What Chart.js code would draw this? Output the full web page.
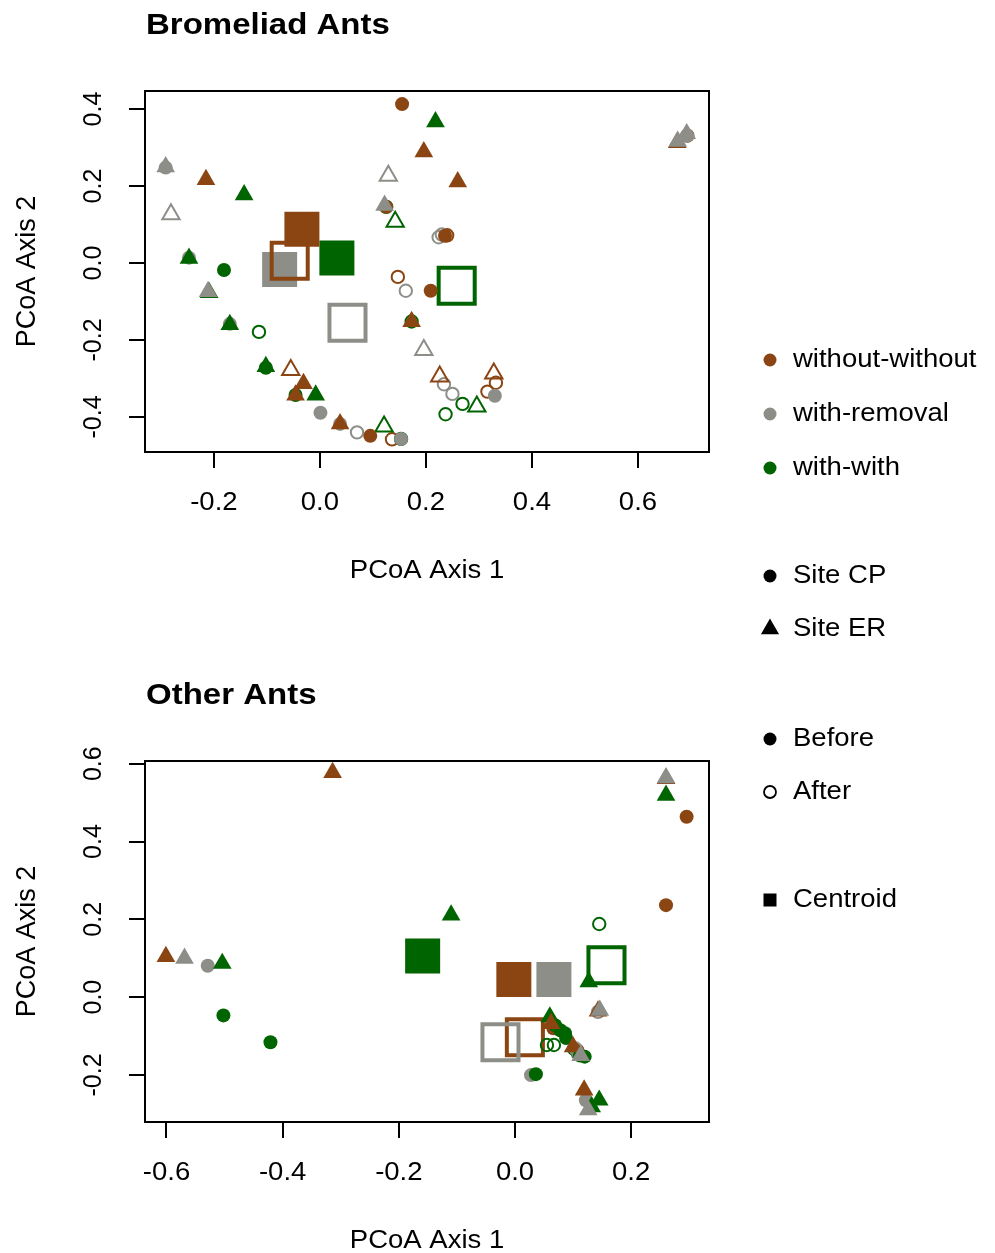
<!DOCTYPE html>
<html>
<head>
<meta charset="utf-8">
<title>PCoA - Bromeliad Ants / Other Ants</title>
<script src="https://cdn.jsdelivr.net/npm/chart.js@4.4.1/dist/chart.umd.min.js"></script>
<style>
  body { margin: 0; background: #fff; }
  #wrap { position: relative; width: 995px; height: 1253px; }
  canvas { position: absolute; left: 0; }
  #topPlot { top: 0; }
  #bottomPlot { top: 660px; }
</style>
</head>
<body>
<div id="wrap">
  <canvas id="topPlot" width="995" height="660"></canvas>
  <canvas id="bottomPlot" width="995" height="593"></canvas>
</div>
<script>
// treatments, in the order the series arrays are passed around
const treatments = ["without-without", "with-removal", "with-with"];
const treatmentColors = ["#8b4513", "#8e8e89", "#006400"];

// points: [PCoA axis 1, PCoA axis 2, site, time]
// site CP = circle, ER = triangle; time B = before (filled), A = after (open)
const bromWithout = [
    [0.196, 0.289, "ER", "B"], [-0.215, 0.217, "ER", "B"], [0.260, 0.211, "ER", "B"],
    [-0.031, -0.313, "ER", "B"], [-0.046, -0.343, "ER", "B"], [0.038, -0.418, "ER", "B"],
    [0.173, -0.152, "ER", "B"], [0.674, 0.313, "ER", "B"],
    [0.155, 0.413, "CP", "B"], [0.125, 0.146, "CP", "B"], [0.236, 0.071, "CP", "B"],
    [0.209, -0.072, "CP", "B"], [0.095, -0.449, "CP", "B"],
    [-0.055, -0.278, "ER", "A"], [0.226, -0.295, "ER", "A"], [0.328, -0.287, "ER", "A"],
    [0.147, -0.036, "CP", "A"], [0.136, -0.458, "CP", "A"], [0.332, -0.311, "CP", "A"],
    [0.316, -0.334, "CP", "A"], [0.693, 0.331, "CP", "A"], [0.240, 0.072, "CP", "A"]
];
const bromRemoval = [
    [-0.291, 0.250, "ER", "B"], [0.122, 0.150, "ER", "B"], [-0.211, -0.074, "ER", "B"],
    [0.675, 0.316, "ER", "B"], [0.692, 0.336, "ER", "B"],
    [-0.291, 0.248, "CP", "B"], [-0.247, 0.014, "CP", "B"], [-0.170, -0.158, "CP", "B"],
    [0.001, -0.389, "CP", "B"], [0.038, -0.418, "CP", "B"], [0.153, -0.457, "CP", "B"],
    [0.330, -0.345, "CP", "B"], [0.693, 0.331, "CP", "B"],
    [0.129, 0.227, "ER", "A"], [-0.281, 0.127, "ER", "A"], [0.196, -0.226, "ER", "A"],
    [0.070, -0.440, "CP", "A"], [0.162, -0.072, "CP", "A"], [0.224, 0.067, "CP", "A"],
    [0.230, 0.074, "CP", "A"], [0.234, -0.315, "CP", "A"], [0.250, -0.340, "CP", "A"]
];
const bromWith = [
    [0.218, 0.367, "ER", "B"], [-0.143, 0.177, "ER", "B"], [-0.247, 0.012, "ER", "B"],
    [-0.209, -0.077, "ER", "B"], [-0.170, -0.160, "ER", "B"], [-0.102, -0.269, "ER", "B"],
    [-0.008, -0.343, "ER", "B"],
    [-0.181, -0.018, "CP", "B"], [-0.046, -0.343, "CP", "B"], [-0.102, -0.272, "CP", "B"],
    [0.142, 0.107, "ER", "A"], [0.121, -0.425, "ER", "A"], [0.296, -0.373, "ER", "A"],
    [0.125, 0.146, "CP", "A"], [-0.115, -0.179, "CP", "A"], [0.173, -0.152, "CP", "A"],
    [0.153, -0.457, "CP", "A"], [0.269, -0.366, "CP", "A"], [0.237, -0.393, "CP", "A"]
];

const otherWithout = [
    [-0.314, 0.577, "ER", "B"], [0.260, 0.562, "ER", "B"], [-0.601, 0.104, "ER", "B"],
    [0.143, -0.036, "ER", "B"], [0.119, -0.239, "ER", "B"], [0.062, -0.068, "ER", "B"],
    [0.100, -0.128, "ER", "B"],
    [0.2955, 0.4635, "CP", "B"], [0.260, 0.2365, "CP", "B"], [0.066, -0.080, "CP", "B"],
    [0.107, -0.137, "CP", "A"]
];
const otherRemoval = [
    [0.260, 0.564, "ER", "B"], [-0.569, 0.0995, "ER", "B"], [0.146, -0.034, "ER", "B"],
    [0.126, -0.290, "ER", "B"], [0.113, -0.150, "ER", "B"],
    [-0.529, 0.0805, "CP", "B"], [0.0275, -0.2005, "CP", "B"], [0.110, -0.146, "CP", "B"],
    [0.122, -0.265, "CP", "B"],
    [0.143, -0.038, "CP", "A"], [0.104, -0.132, "CP", "A"]
];
const otherWith = [
    [0.260, 0.519, "ER", "B"], [-0.504, 0.0866, "ER", "B"], [-0.110, 0.211, "ER", "B"],
    [0.127, 0.039, "ER", "B"], [0.060, -0.051, "ER", "B"], [0.145, -0.265, "ER", "B"],
    [0.132, -0.282, "ER", "B"],
    [-0.502, -0.047, "CP", "B"], [-0.421, -0.116, "CP", "B"], [0.036, -0.198, "CP", "B"],
    [0.069, -0.072, "CP", "B"], [0.078, -0.085, "CP", "B"], [0.086, -0.093, "CP", "B"],
    [0.088, -0.105, "CP", "B"], [0.112, -0.150, "CP", "B"], [0.120, -0.153, "CP", "B"],
    [0.145, 0.188, "CP", "A"], [0.055, -0.123, "CP", "A"], [0.067, -0.123, "CP", "A"],
    [0.102, -0.133, "CP", "A"], [0.109, -0.146, "CP", "A"]
];

// centroids per treatment (same order as treatments)
const bromCentBefore = [[-0.034, 0.088], [-0.076, -0.017], [0.032, 0.013]];
const bromCentAfter = [[-0.057, 0.006], [0.052, -0.155], [0.258, -0.059]];
const otherCentBefore = [[-0.002, 0.045], [0.067, 0.045], [-0.159, 0.106]];
const otherCentAfter = [[0.017, -0.103], [-0.025, -0.116], [0.1575, 0.082]];

// axis limits and ticks
const bromXRange = [-0.330, 0.734];
const bromYRange = [-0.491, 0.447];
const bromXTicks = [-0.2, 0.0, 0.2, 0.4, 0.6];
const bromXLabels = ["-0.2", "0.0", "0.2", "0.4", "0.6"];
const bromYTicks = [-0.4, -0.2, 0.0, 0.2, 0.4];
const bromYLabels = ["-0.4", "-0.2", "0.0", "0.2", "0.4"];

const otherXRange = [-0.637, 0.334];
const otherYRange = [-0.321, 0.607];
const otherXTicks = [-0.6, -0.4, -0.2, 0.0, 0.2];
const otherXLabels = ["-0.6", "-0.4", "-0.2", "0.0", "0.2"];
const otherYTicks = [-0.2, 0.0, 0.2, 0.4, 0.6];
const otherYLabels = ["-0.2", "0.0", "0.2", "0.4", "0.6"];

const FONT = '"Liberation Sans", Arial, Helvetica, sans-serif';
const STRETCH = 1.1; // the reference text is a bit wide

// text helpers
function stretchText(ctx, txt, x, y, font, align, baseline) {
    ctx.save();
    ctx.font = font;
    ctx.textAlign = align;
    ctx.textBaseline = baseline;
    ctx.translate(x, y);
    ctx.scale(STRETCH, 1);
    ctx.fillText(txt, 0, 0);
    ctx.restore();
}

function rotText(ctx, txt, x, y, font) {
    ctx.save();
    ctx.font = font;
    ctx.textAlign = "center";
    ctx.textBaseline = "middle";
    ctx.translate(x, y);
    ctx.rotate(-Math.PI / 2);
    ctx.fillText(txt, 0, 0);
    ctx.restore();
}

function legendMarker(ctx, kind, color, x, y) {
    ctx.save();
    ctx.fillStyle = color;
    ctx.strokeStyle = color;
    ctx.beginPath();
    if (kind === "dot") {
        ctx.arc(x, y, 6.5, 0, Math.PI * 2);
        ctx.fill();
    } else if (kind === "open") {
        ctx.lineWidth = 1.8;
        ctx.arc(x, y, 6, 0, Math.PI * 2);
        ctx.stroke();
    } else if (kind === "tri") {
        const r = 10.5;
        ctx.moveTo(x, y - r);
        ctx.lineTo(x + r * 0.866, y + r / 2);
        ctx.lineTo(x - r * 0.866, y + r / 2);
        ctx.closePath();
        ctx.fill();
    } else if (kind === "square") {
        ctx.rect(x - 6.5, y - 6.5, 13, 13);
        ctx.fill();
    }
    ctx.restore();
}

// Draws the R-style box, titles, tick labels and the side legend
const rPlot = {
    id: "rPlot",
    afterDatasetsDraw(chart, args, o) {
        const { ctx, chartArea: a, scales } = chart;
        ctx.save();
        ctx.strokeStyle = "#000";
        ctx.lineWidth = 2;
        ctx.strokeRect(a.left, a.top, a.right - a.left, a.bottom - a.top);
        ctx.fillStyle = "#000";

        stretchText(ctx, o.title, a.left + 1, a.top - 57, "bold 30px " + FONT, "left", "alphabetic");

        o.xTicks.forEach((v, i) => {
            stretchText(ctx, o.xLabels[i], scales.x.getPixelForValue(v), a.bottom + 51,
                "25px " + FONT, "center", "middle");
        });
        o.yTicks.forEach((v, i) => {
            rotText(ctx, o.yLabels[i], 94, scales.y.getPixelForValue(v), "25px " + FONT);
        });

        stretchText(ctx, o.xTitle, (a.left + a.right) / 2, a.bottom + 119, "25px " + FONT, "center", "middle");
        rotText(ctx, o.yTitle, 28, (a.top + a.bottom) / 2, "27px " + FONT);

        o.legend.forEach((item) => {
            legendMarker(ctx, item.kind, item.color, 770, item.y);
            ctx.fillStyle = "#000";
            stretchText(ctx, item.label, 793, item.y, "25px " + FONT, "left", "middle");
        });
        ctx.restore();
    },
};

// draw order inside each marker group (index into treatments)
const TRI_ORDER = [1, 0, 2];
const CIR_ORDER = [2, 0, 1];

function pick(list, site, time) {
    return list.filter((p) => p[2] === site && p[3] === time).map((p) => ({ x: p[0], y: p[1] }));
}

function buildDatasets(series, centBefore, centAfter) {
    const ds = [];
    const add = (label, data, color, style, filled, r, bw) => {
        ds.push({
            label: label,
            data: data,
            pointStyle: style,
            pointRadius: r,
            backgroundColor: filled ? color : "rgba(0,0,0,0)",
            borderColor: color,
            borderWidth: bw,
            clip: false,
        });
    };
    TRI_ORDER.forEach((i) => add(treatments[i] + " ER before", pick(series[i], "ER", "B"), treatmentColors[i], "triangle", true, 10.8, 0));
    CIR_ORDER.forEach((i) => add(treatments[i] + " CP before", pick(series[i], "CP", "B"), treatmentColors[i], "circle", true, 7, 0));
    TRI_ORDER.forEach((i) => add(treatments[i] + " ER after", pick(series[i], "ER", "A"), treatmentColors[i], "triangle", false, 10, 2));
    TRI_ORDER.forEach((i) => add(treatments[i] + " CP after", pick(series[i], "CP", "A"), treatmentColors[i], "circle", false, 6.2, 2));
    // centroids: open (after) underneath, filled (before) on top
    TRI_ORDER.forEach((i) => add(treatments[i] + " centroid after", [{ x: centAfter[i][0], y: centAfter[i][1] }], treatmentColors[i], "rect", false, 25.5, 4));
    [0, 1, 2].forEach((i) => add(treatments[i] + " centroid before", [{ x: centBefore[i][0], y: centBefore[i][1] }], treatmentColors[i], "rect", true, 24.75, 0));
    return ds;
}

function makePlot(canvasId, series, centBefore, centAfter, xr, yr, xTicks, yTicks, area, plotOpts) {
    const canvas = document.getElementById(canvasId);
    const axisBase = {
        type: "linear",
        grid: { display: true, drawOnChartArea: false, drawTicks: true, tickLength: 16, color: "#000", lineWidth: 2 },
        border: { display: false },
        ticks: { display: false },
    };
    return new Chart(canvas, {
        type: "scatter",
        data: { datasets: buildDatasets(series, centBefore, centAfter) },
        options: {
            responsive: false,
            devicePixelRatio: 1,
            animation: false,
            events: [],
            layout: { padding: { top: area.top, right: canvas.width - area.right, left: 0, bottom: 0 } },
            scales: {
                x: Object.assign({}, axisBase, {
                    min: xr[0],
                    max: xr[1],
                    afterBuildTicks: (s) => { s.ticks = xTicks.map((v) => ({ value: v })); },
                    afterFit: (s) => { s.height = canvas.height - area.bottom; },
                }),
                y: Object.assign({}, axisBase, {
                    min: yr[0],
                    max: yr[1],
                    afterBuildTicks: (s) => { s.ticks = yTicks.map((v) => ({ value: v })); },
                    afterFit: (s) => { s.width = area.left; },
                }),
            },
            plugins: {
                legend: { display: false },
                tooltip: { enabled: false },
                rPlot: plotOpts,
            },
        },
        plugins: [rPlot],
    });
}

// ================== Bromeliad ants ==================
makePlot("topPlot", [bromWithout, bromRemoval, bromWith], bromCentBefore, bromCentAfter,
    bromXRange, bromYRange, bromXTicks, bromYTicks,
    { left: 145, top: 91, right: 709, bottom: 452 },
    {
        title: "Bromeliad Ants",
        xTitle: "PCoA Axis 1",
        yTitle: "PCoA Axis 2",
        xTicks: bromXTicks, xLabels: bromXLabels,
        yTicks: bromYTicks, yLabels: bromYLabels,
        legend: [
            { y: 360, kind: "dot", color: treatmentColors[0], label: treatments[0] },
            { y: 414, kind: "dot", color: treatmentColors[1], label: treatments[1] },
            { y: 468, kind: "dot", color: treatmentColors[2], label: treatments[2] },
            { y: 576, kind: "dot", color: "#000", label: "Site CP" },
            { y: 629, kind: "tri", color: "#000", label: "Site ER" },
        ],
    });

// ================== Other ants ==================
makePlot("bottomPlot", [otherWithout, otherRemoval, otherWith], otherCentBefore, otherCentAfter,
    otherXRange, otherYRange, otherXTicks, otherYTicks,
    { left: 145, top: 101, right: 709, bottom: 462 },
    {
        title: "Other Ants",
        xTitle: "PCoA Axis 1",
        yTitle: "PCoA Axis 2",
        xTicks: otherXTicks, xLabels: otherXLabels,
        yTicks: otherYTicks, yLabels: otherYLabels,
        legend: [
            { y: 79, kind: "dot", color: "#000", label: "Before" },
            { y: 132, kind: "open", color: "#000", label: "After" },
            { y: 240, kind: "square", color: "#000", label: "Centroid" },
        ],
    });
</script>
</body>
</html>
